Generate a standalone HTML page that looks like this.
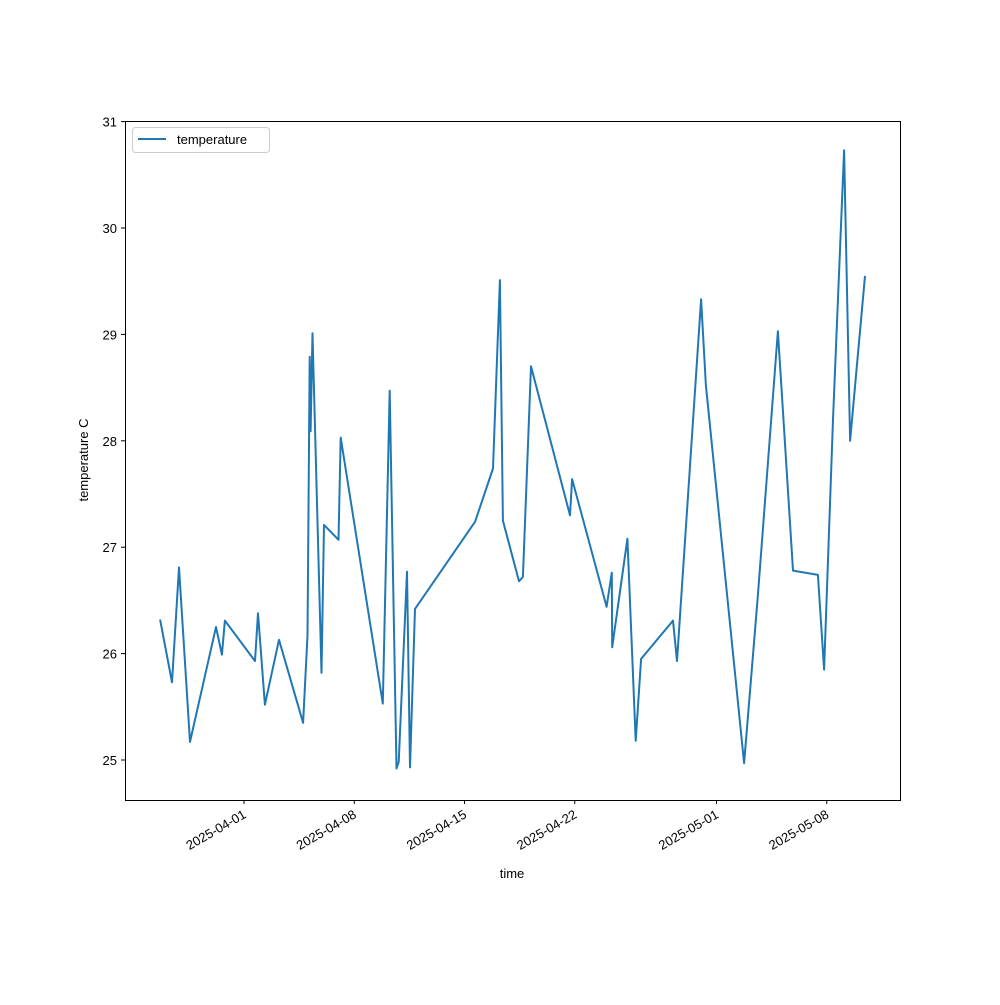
<!DOCTYPE html>
<html><head><meta charset="utf-8"><style>
body{margin:0;background:#fff}
svg{font-family:"Liberation Sans","DejaVu Sans",sans-serif}
</style></head><body>
<svg id="chart" width="1000" height="1000" viewBox="0 0 1000 1000" xmlns="http://www.w3.org/2000/svg">
<rect x="0" y="0" width="1000" height="1000" fill="#fff"/>
<g id="ticks"></g>
<path id="line" fill="none" stroke="#1f77b4" stroke-width="2" stroke-linejoin="round"/>
<rect x="125.5" y="121.5" width="775" height="679" fill="none" stroke="#000" stroke-width="1"/>
<text x="512" y="878" font-size="13" text-anchor="middle">time</text>
<text transform="translate(88,460) rotate(-90)" font-size="13" text-anchor="middle">temperature C</text>
<g>
<rect x="132.5" y="127.5" width="137" height="25" rx="3" fill="#fff" stroke="#ccc"/>
<line x1="138" y1="139" x2="166" y2="139" stroke="#1f77b4" stroke-width="2"/>
<text x="177" y="144" font-size="13">temperature</text>
</g>
</svg>
<script>
// days since 2025-04-01
const days = [-5.33,-4.57,-4.13,-3.43,-1.78,-1.40,-1.21,0.70,0.89,1.33,2.22,3.75,4.03,4.17,4.23,4.35,4.92,5.08,6.00,6.14,8.81,9.25,9.68,9.82,10.35,10.54,10.86,14.67,15.81,16.25,16.44,17.46,17.71,18.22,20.70,20.83,23.02,23.35,23.38,24.34,24.87,25.21,27.24,27.49,29.02,29.33,31.75,32.63,33.90,34.86,36.44,36.83,37.40,38.10,38.48,39.43];
const temps = [26.32,25.73,26.81,25.17,26.25,25.99,26.31,25.93,26.38,25.52,26.13,25.35,26.17,28.79,28.09,29.01,25.82,27.21,27.07,28.03,25.53,28.47,24.92,24.98,26.77,24.93,26.42,27.24,27.74,29.51,27.25,26.68,26.72,28.70,27.30,27.64,26.44,26.76,26.06,27.08,25.18,25.95,26.31,25.93,29.33,28.52,24.97,26.55,29.03,26.78,26.74,25.85,28.20,30.73,28.00,29.55];
const xTickDays = [0,7,14,21,30,37];
const xTickLabels = ["2025-04-01","2025-04-08","2025-04-15","2025-04-22","2025-05-01","2025-05-08"];
const yTicks = [25,26,27,28,29,30,31];
const X = d => 244 + d*15.75;
const Y = v => 760 - (v-25)*106.4;
const NS = "http://www.w3.org/2000/svg";
const g = document.getElementById('ticks');
function mk(tag, attrs){const e=document.createElementNS(NS,tag);for(const k in attrs)e.setAttribute(k,attrs[k]);return e;}
xTickDays.forEach((d,i)=>{
  const x=X(d);
  const t=mk('line',{x1:x,y1:800.5,x2:x,y2:804,stroke:'#000'});
  
  
  g.appendChild(t);
  const l=mk('text',{x:x+3,y:817,'font-size':13,'text-anchor':'end',transform:`rotate(-30 ${x+3} 817)`});
  
  
  l.textContent=xTickLabels[i];
  g.appendChild(l);
});
yTicks.forEach(v=>{
  const y=Y(v);
  const t=mk('line',{x1:121,y1:y,x2:125,y2:y,stroke:'#000'});
  
  
  g.appendChild(t);
  const l=mk('text',{x:117,y:y+5,'font-size':13,'text-anchor':'end'});
  
  
  l.textContent=v;
  g.appendChild(l);
});
document.getElementById('line').setAttribute('d', days.map((d,i)=>(i?'L':'M')+X(d).toFixed(1)+','+Y(temps[i]).toFixed(1)).join(''));
</script>
</body></html>
